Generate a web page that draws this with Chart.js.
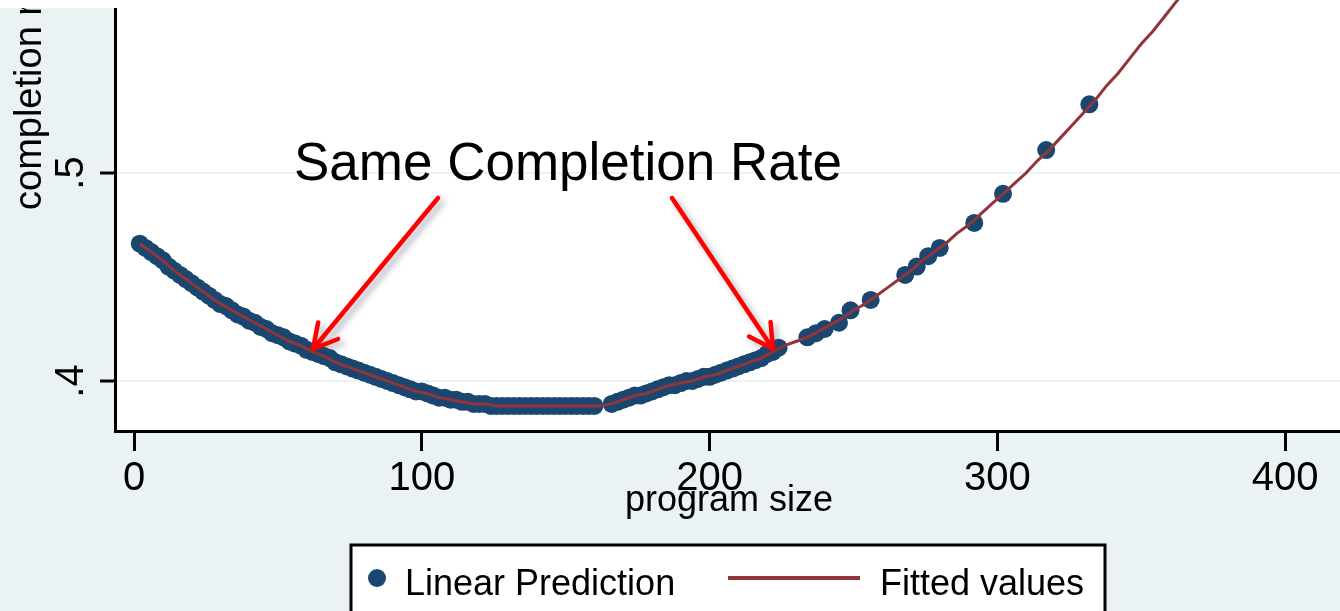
<!DOCTYPE html>
<html>
<head>
<meta charset="utf-8">
<script src="https://cdn.jsdelivr.net/npm/chart.js@4.4.1/dist/chart.umd.min.js"></script>
<style>
  html, body { margin: 0; padding: 0; background: #EAF2F3; overflow: hidden; }
  #chart { display: block; }
</style>
</head>
<body>
<canvas id="chart" width="1340" height="611"></canvas>
<script>
// program size (x) and linear prediction of completion rate (y)
const predX = [2,4,6,8,10,12,14,16,18,20,22,24,26,28,30,32,34,36,38,40,42,44,46,48,50,52,54,56,58,60,
  62,64,66,68,70,72,74,76,78,80,82,84,86,88,90,92,94,96,98,100,102,104,106,108,110,112,114,116,118,120,
  122,124,126,128,130,132,134,136,138,140,142,144,146,148,150,152,154,156,158,160,
  166,168,170,172,174,176,178,180,182,184,186,188,190,192,194,196,198,200,202,204,206,208,210,212,214,216,218,220,222,224,
  234,237,240,245,249,256,268,272,276,280,292,302,317,332];
const predY = [0.466,0.464,0.462,0.460,0.458,0.455,0.453,0.451,0.449,0.447,0.445,0.443,0.441,0.439,0.437,0.436,0.434,0.432,0.431,0.429,
  0.428,0.426,0.425,0.423,0.422,0.421,0.419,0.418,0.417,0.415,0.414,0.413,0.412,0.411,0.409,0.408,0.407,0.406,0.405,0.404,
  0.403,0.402,0.401,0.400,0.399,0.398,0.397,0.396,0.395,0.395,0.394,0.393,0.392,0.392,0.391,0.391,0.390,0.390,0.389,0.389,
  0.389,0.388,0.388,0.388,0.388,0.388,0.388,0.388,0.388,0.388,0.388,0.388,0.388,0.388,0.388,0.388,0.388,0.388,0.388,0.388,
  0.389,0.390,0.391,0.392,0.393,0.393,0.394,0.395,0.396,0.397,0.398,0.398,0.399,0.400,0.400,0.401,0.402,0.402,0.403,0.404,
  0.405,0.406,0.407,0.408,0.409,0.410,0.411,0.413,0.414,0.416,
  0.421,0.423,0.425,0.428,0.434,0.439,0.451,0.455,0.460,0.464,0.476,0.490,0.511,0.533];

// fitted values line
const fitX = [2,6,10,14,18,22,26,30,34,38,42,46,50,54,58,62,66,70,74,78,82,86,90,94,98,102,106,110,114,118,
  122,126,130,134,138,142,146,150,154,158,162,166,170,174,178,182,186,190,194,198,202,206,210,214,218,222,
  226,230,234,238,242,246,250,254,258,262,266,270,274,278,282,286,290,294,298,302,306,310,314,318,322,326,
  330,334,338,342,346,350,354,358,362,366,370];
const fitY = [0.466,0.462,0.458,0.453,0.449,0.445,0.441,0.437,0.434,0.431,0.428,0.425,0.422,0.419,0.417,0.414,0.412,0.409,0.407,0.405,
  0.403,0.401,0.399,0.397,0.395,0.394,0.392,0.391,0.390,0.389,0.389,0.388,0.388,0.388,0.388,0.388,0.388,0.388,0.388,0.388,
  0.388,0.389,0.391,0.393,0.394,0.396,0.398,0.399,0.400,0.402,0.403,0.405,0.407,0.409,0.411,0.414,
  0.417,0.419,0.421,0.424,0.427,0.430,0.434,0.437,0.441,0.445,0.449,0.453,0.458,0.462,0.466,0.471,0.475,0.480,0.485,0.490,
  0.495,0.500,0.506,0.511,0.517,0.523,0.529,0.535,0.542,0.548,0.555,0.562,0.568,0.575,0.582,0.589,0.596];

const xTicks = [0, 100, 200, 300, 400];
const yTicks = [0.4, 0.5];
const yTickLabels = ['.4', '.5'];

const NAVY = '#1A476F';
const MAROON = '#90353B';
const BG = '#EAF2F3';
const FONT = '"Liberation Sans", Arial, sans-serif';

function drawArrow(ctx, x1, y1, x2, y2) {
  const ang = Math.atan2(y2 - y1, x2 - x1);
  const len = 27, spread = 0.5;
  ctx.save();
  ctx.strokeStyle = '#FF0000';
  ctx.lineWidth = 4.5;
  ctx.lineCap = 'round';
  ctx.lineJoin = 'round';
  ctx.shadowColor = 'rgba(60,60,90,0.4)';
  ctx.shadowBlur = 6;
  ctx.shadowOffsetX = 4;
  ctx.shadowOffsetY = 4;
  ctx.beginPath();
  ctx.moveTo(x1, y1);
  ctx.lineTo(x2, y2);
  ctx.moveTo(x2 - len * Math.cos(ang - spread), y2 - len * Math.sin(ang - spread));
  ctx.lineTo(x2, y2);
  ctx.lineTo(x2 - len * Math.cos(ang + spread), y2 - len * Math.sin(ang + spread));
  ctx.stroke();
  ctx.restore();
}

const decorations = {
  id: 'decorations',
  beforeDraw(chart) {
    const { ctx, chartArea: a } = chart;
    ctx.save();
    ctx.fillStyle = BG;
    ctx.fillRect(0, 0, chart.width, chart.height);
    ctx.fillStyle = '#FFFFFF';
    ctx.fillRect(a.left, a.top, a.right - a.left, a.bottom - a.top);
    ctx.restore();
  },
  afterDraw(chart) {
    const { ctx, scales } = chart;
    const y = scales.y;
    ctx.save();

    // y tick labels, rotated
    ctx.fillStyle = '#000';
    ctx.font = '40px ' + FONT;
    ctx.textAlign = 'center';
    ctx.textBaseline = 'middle';
    yTicks.forEach((v, i) => {
      ctx.save();
      ctx.translate(72, y.getPixelForValue(v));
      ctx.rotate(-Math.PI / 2);
      ctx.fillText(yTickLabels[i], 0, 0);
      ctx.restore();
    });

    // y axis title
    ctx.save();
    ctx.font = '38px ' + FONT;
    ctx.translate(31, 210);
    ctx.rotate(-Math.PI / 2);
    ctx.textAlign = 'left';
    ctx.textBaseline = 'middle';
    ctx.fillText('completion rate', 0, 0);
    ctx.restore();

    // white strip at the very top
    ctx.fillStyle = '#FFFFFF';
    ctx.fillRect(0, 0, 117, 8);

    // x axis title
    ctx.fillStyle = '#000';
    ctx.font = '36px ' + FONT;
    ctx.textAlign = 'center';
    ctx.textBaseline = 'alphabetic';
    ctx.fillText('program size', 729, 511);

    // annotation
    ctx.font = '53px ' + FONT;
    ctx.textAlign = 'left';
    ctx.fillText('Same Completion Rate', 294, 180);
    drawArrow(ctx, 438, 198, 313, 349);
    drawArrow(ctx, 672, 198, 773, 349);

    // legend
    ctx.fillStyle = '#FFFFFF';
    ctx.fillRect(351, 545, 754, 80);
    ctx.strokeStyle = '#000';
    ctx.lineWidth = 3;
    ctx.strokeRect(351, 545, 754, 80);
    ctx.fillStyle = NAVY;
    ctx.beginPath();
    ctx.arc(377, 578, 9, 0, Math.PI * 2);
    ctx.fill();
    ctx.strokeStyle = MAROON;
    ctx.lineWidth = 4;
    ctx.beginPath();
    ctx.moveTo(728, 578);
    ctx.lineTo(860, 578);
    ctx.stroke();
    ctx.fillStyle = '#000';
    ctx.font = '36px ' + FONT;
    ctx.textAlign = 'left';
    ctx.fillText('Linear Prediction', 405, 595);
    ctx.fillText('Fitted values', 880, 595);

    ctx.restore();
  }
};

const ctx = document.querySelector('#chart').getContext('2d');
const chart = new Chart(ctx, {
  data: {
    datasets: [
      {
        type: 'line',
        label: 'Fitted values',
        data: fitX.map((x, i) => ({ x, y: fitY[i] })),
        borderColor: MAROON,
        borderWidth: 3,
        pointRadius: 0,
        tension: 0,
        fill: false,
        order: 0
      },
      {
        type: 'scatter',
        label: 'Linear Prediction',
        data: predX.map((x, i) => ({ x, y: predY[i] })),
        backgroundColor: NAVY,
        borderWidth: 0,
        pointRadius: 9,
        order: 1
      }
    ]
  },
  options: {
    responsive: false,
    animation: false,
    devicePixelRatio: 1,
    layout: { autoPadding: false, padding: 0 },
    plugins: {
      legend: { display: false },
      tooltip: { enabled: false }
    },
    scales: {
      x: {
        type: 'linear',
        min: -6.603,
        max: 419.1,
        afterBuildTicks: scale => { scale.ticks = xTicks.map(v => ({ value: v })); },
        afterFit: scale => { scale.height = 180; },
        ticks: {
          color: '#000',
          font: { family: FONT, size: 40 },
          padding: 4,
          maxRotation: 0,
          callback: v => String(v)
        },
        grid: {
          drawOnChartArea: false,
          drawTicks: true,
          tickLength: 20,
          tickWidth: 3,
          tickColor: '#000'
        },
        border: { display: true, color: '#000', width: 3 }
      },
      y: {
        type: 'linear',
        min: 0.37596,
        max: 0.58317,
        afterBuildTicks: scale => { scale.ticks = yTicks.map(v => ({ value: v })); },
        afterFit: scale => { scale.width = 115; },
        ticks: { display: false },
        grid: {
          color: BG,
          lineWidth: 2,
          drawTicks: true,
          tickLength: 15,
          tickWidth: 3,
          tickColor: '#000'
        },
        border: { display: true, color: '#000', width: 3 }
      }
    }
  },
  plugins: [decorations]
});
</script>
</body>
</html>
